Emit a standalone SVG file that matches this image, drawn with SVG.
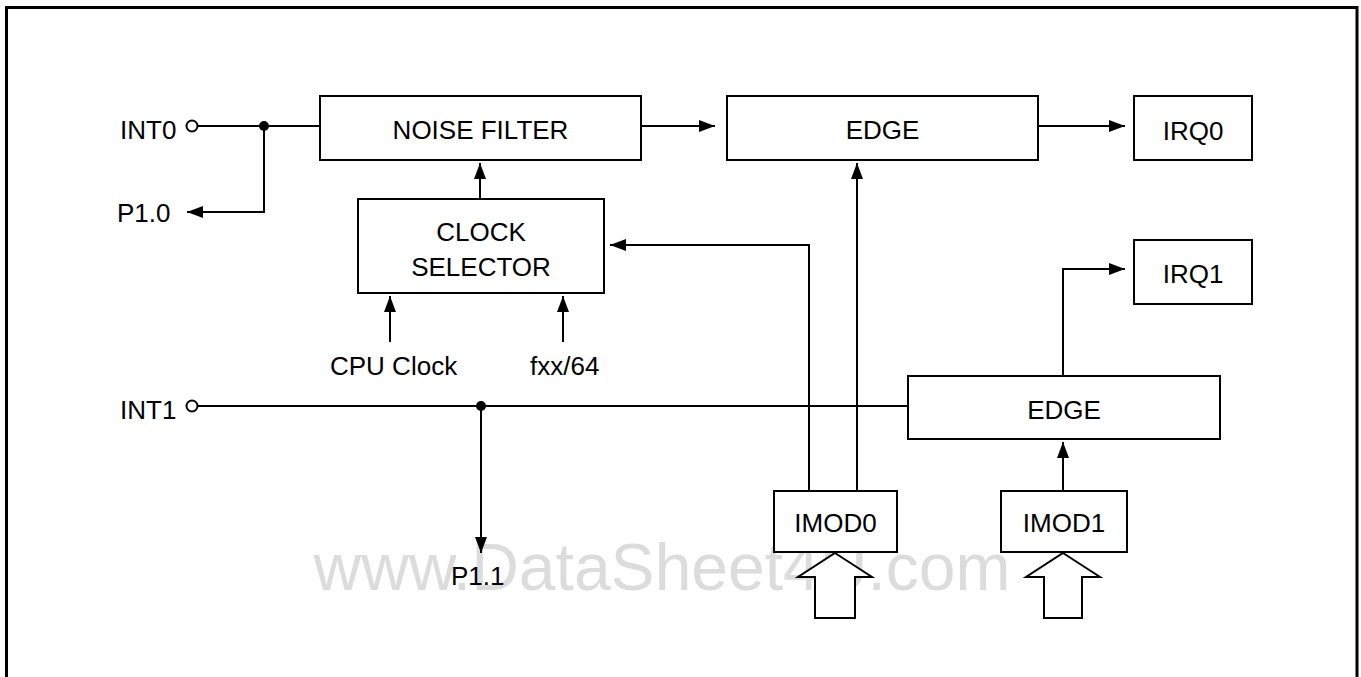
<svg xmlns="http://www.w3.org/2000/svg" width="1361" height="677" viewBox="0 0 1361 677">
<style>
.box{fill:#fff;stroke:#000;stroke-width:2}
.ln{fill:none;stroke:#000;stroke-width:2}
.t{font-family:"Liberation Sans",Arial,sans-serif;font-size:26px;fill:#000}
.c{text-anchor:middle}
.wm{font-family:"Liberation Sans",Arial,sans-serif;font-size:66px;fill:#dcdcdc;text-anchor:middle}
.hollow{fill:#fff;stroke:#000;stroke-width:2;stroke-linejoin:miter}
</style>
<defs>
<marker id="ah" viewBox="0 0 16 12" refX="16" refY="6" markerWidth="16" markerHeight="12" markerUnits="userSpaceOnUse" orient="auto">
<path d="M0,0 L16,6 L0,12 Z" fill="#000"/>
</marker>
</defs>
<rect width="1361" height="677" fill="#fff"/>
<path d="M6.5,680 V7.5 H1357 V680" fill="none" stroke="#000" stroke-width="3"/>
<text class="wm" x="662" y="590">www.DataSheet4U.com</text>

<g id="connectors">
<path class="ln" d="M198,126 H320"/>
<path class="ln" d="M264,126 V212 H187" marker-end="url(#ah)"/>
<path class="ln" d="M641,126 H715" marker-end="url(#ah)"/>
<path class="ln" d="M1038,126 H1125" marker-end="url(#ah)"/>
<path class="ln" d="M480,199 V163" marker-end="url(#ah)"/>
<path class="ln" d="M809,491 V245 H610" marker-end="url(#ah)"/>
<path class="ln" d="M857,491 V163" marker-end="url(#ah)"/>
<path class="ln" d="M390,342 V296" marker-end="url(#ah)"/>
<path class="ln" d="M563,342 V296" marker-end="url(#ah)"/>
<path class="ln" d="M198,406 H908"/>
<path class="ln" d="M481,406 V553" marker-end="url(#ah)"/>
<path class="ln" d="M1063,376 V269 H1125" marker-end="url(#ah)"/>
<path class="ln" d="M1063,491 V442" marker-end="url(#ah)"/>
<circle cx="264" cy="126" r="5" fill="#000"/>
<circle cx="481" cy="406" r="5" fill="#000"/>
<circle cx="192" cy="126" r="5.5" fill="#fff" stroke="#000" stroke-width="2"/>
<circle cx="192" cy="406" r="5.5" fill="#fff" stroke="#000" stroke-width="2"/>
<path class="hollow" d="M835,553 L872,577 H855 V618 H815 V577 H798 Z"/>
<path class="hollow" d="M1063,553 L1100,577 H1082 V618 H1044 V577 H1026 Z"/>
</g>

<g id="int0"><text class="t" x="120" y="139">INT0</text></g>
<g id="p10"><text class="t" x="117" y="222">P1.0</text></g>
<g id="int1"><text class="t" x="120" y="419">INT1</text></g>
<g id="p11"><text class="t" x="451" y="585">P1.1</text></g>
<g id="cpuclock"><text class="t" x="330" y="375">CPU Clock</text></g>
<g id="fxx64"><text class="t" x="530" y="375">fxx/64</text></g>

<g id="noise-filter">
<rect class="box" x="320" y="96" width="321" height="64"/>
<text class="t c" x="480.5" y="139">NOISE FILTER</text>
</g>
<g id="clock-selector">
<rect class="box" x="358" y="199" width="246" height="94"/>
<text class="t c" x="481" y="241">CLOCK</text>
<text class="t c" x="481" y="276">SELECTOR</text>
</g>
<g id="edge0">
<rect class="box" x="727" y="96" width="311" height="64"/>
<text class="t c" x="882.5" y="139">EDGE</text>
</g>
<g id="irq0">
<rect class="box" x="1134" y="96" width="118" height="64"/>
<text class="t c" x="1193" y="140">IRQ0</text>
</g>
<g id="irq1">
<rect class="box" x="1134" y="240" width="118" height="64"/>
<text class="t c" x="1193" y="283">IRQ1</text>
</g>
<g id="edge1">
<rect class="box" x="908" y="376" width="312" height="63"/>
<text class="t c" x="1064" y="419">EDGE</text>
</g>
<g id="imod0">
<rect class="box" x="774" y="491" width="123" height="61"/>
<text class="t c" x="835.5" y="532">IMOD0</text>
</g>
<g id="imod1">
<rect class="box" x="1001" y="491" width="126" height="61"/>
<text class="t c" x="1064" y="532">IMOD1</text>
</g>
</svg>
